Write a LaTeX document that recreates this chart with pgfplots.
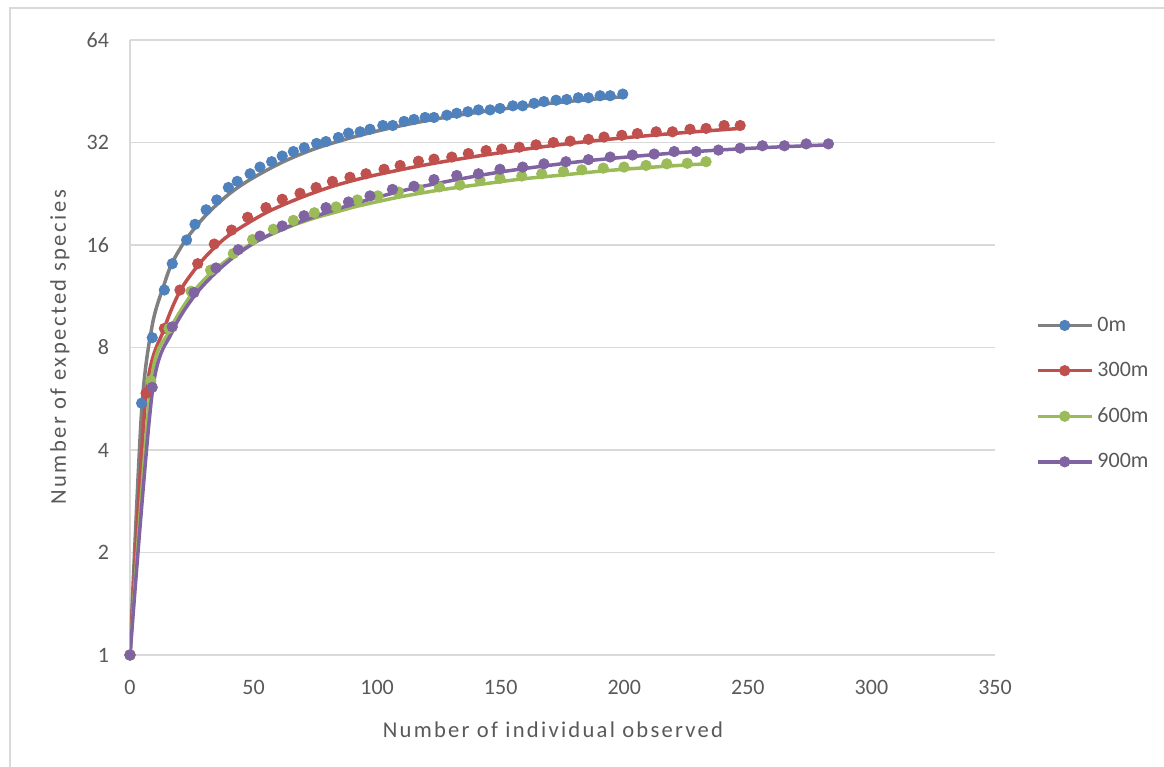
\documentclass[border=0pt]{standalone}
\usepackage{pgfplots}
\pgfplotsset{compat=1.18}
\usepackage{fontspec}
\setmainfont{Carlito}
\definecolor{txt}{HTML}{595959}
\definecolor{grd}{HTML}{D9D9D9}
\definecolor{cblue}{HTML}{4F81BD}
\definecolor{cred}{HTML}{C0504D}
\definecolor{cgreen}{HTML}{9BBB59}
\definecolor{cpurple}{HTML}{8064A2}
\definecolor{cgray}{HTML}{808080}
\begin{document}
\begin{tikzpicture}[x=1pt,y=1pt]
\path[use as bounding box] (0,0) rectangle (582,383.5);
\draw[grd, line width=0.6pt] (5,0) -- (5,379.5) -- (582,379.5);
\begin{axis}[
  at={(65pt,56pt)}, anchor=south west,
  scale only axis, width=432.5pt, height=307.5pt,
  xmin=0, xmax=350, ymin=1, ymax=64,
  ymode=log, log basis y=2,
  xtick={0,50,...,350},
  ytick={1,2,4,8,16,32,64},
  yticklabels={1,2,4,8,16,32,64},
  /pgf/number format/assume math mode=true,
  axis x line*=bottom, axis y line*=left,
  x axis line style={grd, line width=0.8pt, -},
  y axis line style={grd, line width=0.8pt, -},
  tick style={draw=none},
  ymajorgrids, grid style={grd, line width=0.8pt},
  tick label style={font=\fontsize{11}{13}\selectfont, text=txt},
  yticklabel style={xshift=-7pt},
  xticklabel style={yshift=-9pt},
  xlabel={\addfontfeatures{LetterSpace=10}Number of individual observed},
  ylabel={\addfontfeatures{LetterSpace=11}Number of expected species},
  label style={font=\fontsize{11.3}{13}\selectfont, text=txt},
  xlabel style={at={(axis description cs:0.489,-0.122)}, anchor=center},
  ylabel style={at={(axis description cs:-0.081,0.5)}, anchor=center},
  legend style={at={(1.04,0.5636)}, anchor=north west, draw=none, fill=none,
    font=\fontsize{11}{13}\selectfont, text=txt, row sep=10pt,
    cells={anchor=west}},
  legend cell align=left,
]
% 0m
\addplot[cgray, line width=1.75pt, smooth, tension=0.5, forget plot] coordinates {
(0,1) (4.7,5.2) (9.0,9.3) (13.9,12.3) (17.1,14.2) (22.9,16.7) (30.8,19.6) (39.8,22.5) (48.6,24.9) (61.6,28.0) (75.5,30.8) (93.1,33.6) (110.9,36.0) (128.2,38.0) (145.7,39.7) (163.5,41.2) (181.4,42.5) (199.4,43.6)};
\addplot[only marks, mark=*, mark size=2.6pt, mark options={draw=cblue, fill=cblue}, forget plot] coordinates {
(0,1) (4.7,5.49) (9.0,8.55) (13.9,11.8) (17.1,14.1) (22.9,16.55) (26.3,18.4) (30.8,20.3) (35.1,21.7) (39.8,23.6) (43.4,24.6) (48.6,25.9) (52.6,27.1) (57.3,28.1) (61.6,29.2) (66.1,30.1) (70.5,30.9) (75.5,31.8) (79.3,32.2) (84.3,33.1) (88.4,34.1) (93.1,34.4) (97.1,35.0) (102.3,35.9) (106.3,35.9) (110.9,36.9) (114.9,37.4) (119.4,37.9) (123.0,37.9) (128.2,38.5) (132.2,39.0) (136.7,39.4) (141.0,39.9) (145.7,39.9) (149.7,40.3) (154.9,41.0) (158.9,41.0) (163.5,41.7) (167.5,42.2) (172.4,42.6) (176.7,42.8) (181.4,43.3) (185.5,43.3) (190.2,43.9) (194.3,43.9) (199.4,44.4)};
% 300m
\addplot[cred, line width=1.75pt, smooth, tension=0.5, forget plot] coordinates {
(0,1) (6.5,5.8) (13.9,9.1) (20.2,11.7) (27.4,13.9) (34.1,15.7) (41.1,17.3) (55.0,19.9) (68.8,22.0) (82.0,23.8) (95.5,25.3) (109.3,26.6) (123.0,27.8) (136.9,28.9) (150.4,29.9) (164.3,30.9) (178.1,31.8) (191.8,32.6) (205.3,33.3) (219.5,34.0) (233.1,34.6) (246.9,35.2)};
\addplot[only marks, mark=*, mark size=2.6pt, mark options={draw=cred, fill=cred}, forget plot] coordinates {
(0,1) (6.5,5.87) (13.9,9.1) (20.2,11.8) (27.4,14.1) (34.1,16.1) (41.1,17.7) (47.6,19.3) (55.0,20.6) (61.6,21.8) (68.8,22.7) (75.3,23.6) (81.9,24.6) (89.0,25.3) (95.5,25.9) (102.8,26.7) (109.3,27.4) (116.7,28.2) (123.0,28.6) (130.2,29.0) (136.9,29.7) (144.1,30.3) (150.4,30.6) (157.5,31.0) (164.3,31.5) (171.3,32.0) (178.1,32.3) (185.5,32.7) (191.8,33.2) (199.0,33.6) (205.3,34.0) (212.9,34.4) (219.5,34.4) (226.6,35.0) (233.1,35.2) (240.4,35.9) (246.9,35.9)};
% 600m
\addplot[cgreen, line width=1.75pt, smooth, tension=0.5, forget plot] coordinates {
(0,1) (8.4,6.2) (15.8,8.9) (24.7,11.4) (32.6,13.2) (41.8,14.9) (49.6,16.2) (58.0,17.3) (66.1,18.3) (74.6,19.2) (83.4,20.0) (92.0,20.8) (108.6,22.1) (125.2,23.2) (141.6,24.1) (158.5,25.0) (175.4,25.7) (191.5,26.4) (208.8,27.0) (225.5,27.5) (233.1,27.7)};
\addplot[only marks, mark=*, mark size=2.6pt, mark options={draw=cgreen, fill=cgreen}, forget plot] coordinates {
(0,1) (8.4,6.39) (15.8,9.1) (24.7,11.7) (32.6,13.5) (41.8,15.1) (49.6,16.6) (58.0,17.8) (66.1,18.9) (74.6,19.9) (83.4,20.7) (92.0,21.7) (100.3,22.3) (108.6,22.9) (116.9,23.3) (125.2,23.7) (133.5,24.0) (141.6,24.8) (149.7,25.1) (158.5,25.5) (166.6,25.9) (175.4,26.3) (182.8,26.6) (191.5,26.9) (199.9,27.1) (208.8,27.4) (217.2,27.7) (225.5,27.8) (233.1,28.1)};
% 900m
\addplot[cpurple, line width=1.75pt, smooth, tension=0.5, forget plot] coordinates {
(0,1) (9.0,5.9) (17.1,8.9) (25.9,11.3) (34.8,13.3) (43.8,15.1) (52.6,16.6) (61.6,17.8) (70.4,18.9) (79.3,19.9) (88.4,20.9) (97.1,21.8) (106.2,22.7) (114.9,23.5) (132.2,24.9) (149.7,26.2) (167.5,27.3) (185.5,28.3) (203.3,29.1) (220.2,29.8) (238.1,30.4) (255.9,30.9) (273.6,31.3) (282.6,31.5)};
\addplot[only marks, mark=*, mark size=2.6pt, mark options={draw=cpurple, fill=cpurple}, forget plot] coordinates {
(0,1) (9.0,6.11) (17.1,9.2) (25.9,11.6) (34.8,13.7) (43.8,15.5) (52.6,17.0) (61.6,18.2) (70.4,19.5) (79.3,20.6) (88.4,21.4) (97.1,22.3) (106.2,23.3) (114.9,23.8) (123.0,24.9) (132.2,25.6) (141.0,25.9) (149.7,26.7) (158.9,27.1) (167.5,27.7) (176.4,28.1) (185.5,28.5) (194.3,29.0) (203.3,29.4) (212.1,29.6) (220.2,30.1) (229.1,30.1) (238.1,30.4) (246.9,30.8) (255.9,31.3) (264.8,31.3) (273.6,31.7) (282.6,31.7)};
% legend
\addlegendimage{legend image code/.code={\draw[cgray, line width=1.75pt] (0pt,0pt) -- (27pt,0pt); \fill[cblue] (13.5pt,0pt) circle (2.6pt);}}
\addlegendentry{0m}
\addlegendimage{legend image code/.code={\draw[cred, line width=1.75pt] (0pt,0pt) -- (27pt,0pt); \fill[cred] (13.5pt,0pt) circle (2.6pt);}}
\addlegendentry{300m}
\addlegendimage{legend image code/.code={\draw[cgreen, line width=1.75pt] (0pt,0pt) -- (27pt,0pt); \fill[cgreen] (13.5pt,0pt) circle (2.6pt);}}
\addlegendentry{600m}
\addlegendimage{legend image code/.code={\draw[cpurple, line width=1.75pt] (0pt,0pt) -- (27pt,0pt); \fill[cpurple] (13.5pt,0pt) circle (2.6pt);}}
\addlegendentry{900m}
\end{axis}
\end{tikzpicture}
\end{document}
